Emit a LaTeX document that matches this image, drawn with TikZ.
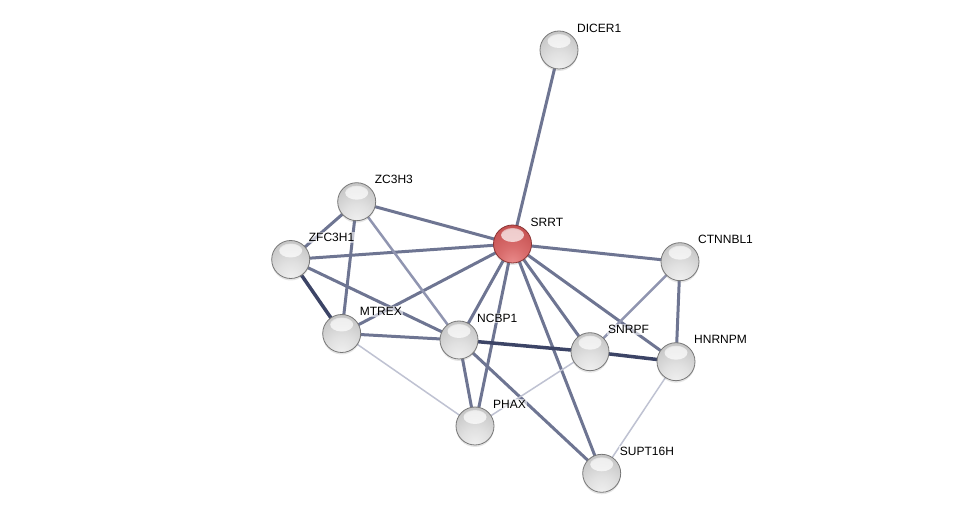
\documentclass[tikz,border=0pt]{standalone}
\usepackage{fontspec}
\setmainfont{Liberation Sans}
\usetikzlibrary{shadows,fadings}
\definecolor{edgenorm}{HTML}{6E7592}
\definecolor{edgedark}{HTML}{3C4466}
\definecolor{edgemed}{HTML}{9095B0}
\definecolor{edgelight}{HTML}{BFC2D2}
\definecolor{noderim}{HTML}{787878}
\definecolor{redrim}{HTML}{8A3434}
\pgfdeclareradialshading{graysph}{\pgfpoint{0bp}{-26bp}}{%
  color(0bp)=(white!94!black); color(18bp)=(white!88!black);
  color(38bp)=(white!78!black); color(55bp)=(white!72!black);
  color(72bp)=(white!60!black); color(100bp)=(white!55!black)}
\pgfdeclareradialshading{redsph}{\pgfpoint{0bp}{-26bp}}{%
  color(0bp)=(red!40!white!92!black); color(18bp)=(red!50!white!85!black);
  color(38bp)=(red!58!white!78!black); color(55bp)=(red!62!white!70!black);
  color(72bp)=(red!62!white!55!black); color(100bp)=(red!62!white!50!black)}
\begin{document}
\begin{tikzpicture}[x=1pt,y=-1pt,
  hilite/.style={path picture={\fill[white,opacity=0.7,path fading=circle with fuzzy edge 20 percent]
     ([yshift=9pt]path picture bounding box.center) ellipse (11.5pt and 7pt);}},
  prot/.style={circle,minimum size=38pt,inner sep=0pt,draw=noderim,line width=0.8pt,
    shading=graysph,hilite,
    drop shadow={opacity=0.2,shadow xshift=0pt,shadow yshift=-2pt}},
  query/.style={prot,draw=redrim,shading=redsph},
  lab/.style={font=\fontsize{12}{14}\selectfont,anchor=west,inner sep=1pt,
    fill=white,fill opacity=0.6,text opacity=1},
  enorm/.style={draw=edgenorm,line width=3pt},
  edark/.style={draw=edgedark,line width=3.5pt},
  emed/.style={draw=edgemed,line width=2.5pt},
  elight/.style={draw=edgelight,line width=1.5pt}]
\useasboundingbox (0,0) rectangle (975,518);
\fill[white] (0,0) rectangle (975,518);
% coordinates of nodes
\coordinate (cDICER1) at (559,50);
\coordinate (cSRRT) at (512.5,244);
\coordinate (cZC3H3) at (356.7,201.7);
\coordinate (cZFC3H1) at (290.7,259.5);
\coordinate (cCTNNBL1) at (680,261.7);
\coordinate (cMTREX) at (341.7,333.5);
\coordinate (cNCBP1) at (459,340);
\coordinate (cSNRPF) at (590,351.7);
\coordinate (cHNRNPM) at (676,361.7);
\coordinate (cPHAX) at (475,426);
\coordinate (cSUPT16H) at (601.7,473.3);
% edges
\draw[enorm] (cDICER1) -- (cSRRT);
\draw[enorm] (cSRRT) -- (cZC3H3);
\draw[enorm] (cSRRT) -- (cZFC3H1);
\draw[enorm] (cSRRT) -- (cCTNNBL1);
\draw[enorm] (cSRRT) -- (cMTREX);
\draw[enorm] (cSRRT) -- (cNCBP1);
\draw[enorm] (cSRRT) -- (cSNRPF);
\draw[enorm] (cSRRT) -- (cHNRNPM);
\draw[enorm] (cSRRT) -- (cPHAX);
\draw[enorm] (cSRRT) -- (cSUPT16H);
\draw[enorm] (cZC3H3) -- (cZFC3H1);
\draw[enorm] (cZC3H3) -- (cMTREX);
\draw[emed] (cZC3H3) -- (cNCBP1);
\draw[edark] (cZFC3H1) -- (cMTREX);
\draw[enorm] (cZFC3H1) -- (cNCBP1);
\draw[enorm] (cMTREX) -- (cNCBP1);
\draw[elight] (cMTREX) -- (cPHAX);
\draw[edark] (cNCBP1) -- (cSNRPF);
\draw[edark] (cSNRPF) -- (cHNRNPM);
\draw[enorm] (cNCBP1) -- (cPHAX);
\draw[enorm] (cNCBP1) -- (cSUPT16H);
\draw[elight] (cPHAX) -- (cSNRPF);
\draw[emed] (cSNRPF) -- (cCTNNBL1);
\draw[enorm] (cCTNNBL1) -- (cHNRNPM);
\draw[elight] (cHNRNPM) -- (cSUPT16H);
% nodes
\node[prot] (DICER1) at (cDICER1) {};
\node[query] (SRRT) at (cSRRT) {};
\node[prot] (ZC3H3) at (cZC3H3) {};
\node[prot] (ZFC3H1) at (cZFC3H1) {};
\node[prot] (CTNNBL1) at (cCTNNBL1) {};
\node[prot] (MTREX) at (cMTREX) {};
\node[prot] (NCBP1) at (cNCBP1) {};
\node[prot] (SNRPF) at (cSNRPF) {};
\node[prot] (HNRNPM) at (cHNRNPM) {};
\node[prot] (PHAX) at (cPHAX) {};
\node[prot] (SUPT16H) at (cSUPT16H) {};
% labels
\foreach \n in {DICER1,SRRT,ZC3H3,ZFC3H1,CTNNBL1,MTREX,NCBP1,SNRPF,HNRNPM,PHAX,SUPT16H}{
  \node[lab] (l\n) at ([shift={(17,-22)}]c\n) {\n};
}
\end{tikzpicture}
\end{document}
